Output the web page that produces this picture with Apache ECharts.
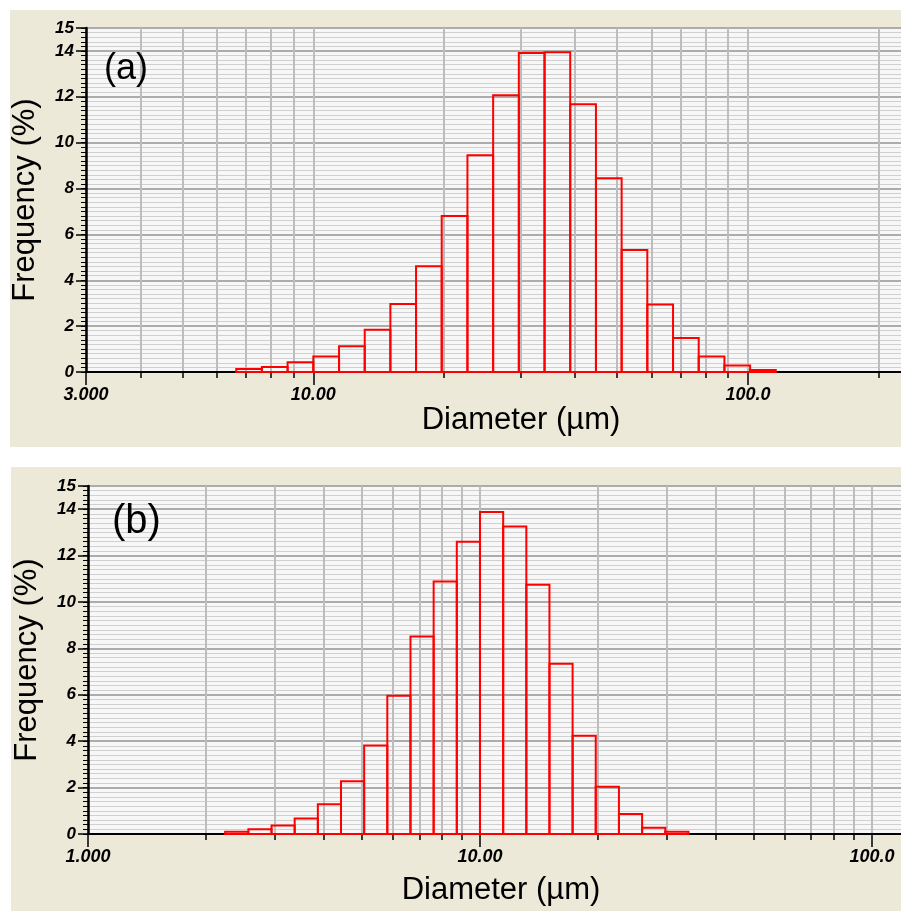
<!DOCTYPE html>
<html><head><meta charset="utf-8">
<script src="https://cdn.jsdelivr.net/npm/echarts@6/dist/echarts.min.js"></script>
<style>html,body{margin:0;padding:0;background:#fff}#c{width:901px;height:911px}</style>
</head><body><div id="c"></div>
<script>
// ---- Data ----
// Panel (a): bin edges (µm) and frequency (%)
const edgesA = [6.648, 7.617, 8.727, 10.00, 11.46, 13.13, 15.04, 17.23, 19.74, 22.62, 25.92, 29.70, 34.03, 38.99, 44.68, 51.19, 58.65, 67.21, 77.00, 88.23, 101.1, 115.8];
const freqA  = [0.13, 0.22, 0.42, 0.68, 1.12, 1.84, 2.96, 4.61, 6.80, 9.45, 12.07, 13.91, 13.94, 11.68, 8.45, 5.32, 2.94, 1.48, 0.68, 0.28, 0.09];
// Panel (b)
const edgesB = [2.238, 2.565, 2.939, 3.367, 3.858, 4.420, 5.064, 5.802, 6.648, 7.617, 8.727, 10.00, 11.46, 13.13, 15.04, 17.23, 19.74, 22.62, 25.92, 29.70, 34.03];
const freqB  = [0.10, 0.20, 0.37, 0.67, 1.28, 2.27, 3.81, 5.96, 8.51, 10.88, 12.60, 13.88, 13.25, 10.74, 7.34, 4.23, 2.04, 0.86, 0.27, 0.10];
// Axis ticks / labels
const xTicksA = [3, 4, 5, 6, 7, 8, 9, 10, 20, 30, 40, 50, 60, 70, 80, 90, 100, 200];
const xLabelValsA = [3, 10, 100];
const xLabelTextA = ['3.000', '10.00', '100.0'];
const xTicksB = [1, 2, 3, 4, 5, 6, 7, 8, 9, 10, 20, 30, 40, 50, 60, 70, 80, 90, 100];
const xLabelValsB = [1, 10, 100];
const xLabelTextB = ['1.000', '10.00', '100.0'];
const xRangeA = [3, 224.8];
const xRangeB = [1, 118.6];
const yRange = [0, 15];
const panelLabels = ['(a)', '(b)'];
const xTitle = 'Diameter (µm)';
const yTitle = 'Frequency (%)';

// ---- Build ----
const FONT = "'Liberation Sans', Arial, sans-serif";
function bins(edges, freq) {
  return freq.map((f, i) => [edges[i], edges[i + 1], f]);
}
function fmt(vals, texts) {
  return function (v) {
    for (let i = 0; i < vals.length; i++) {
      if (Math.abs(v - vals[i]) / vals[i] < 1e-3) return texts[i];
    }
    return '';
  };
}
function xAxes(gi, range, ticks, lv, lt, gap, padL) {
  return [
    { type: 'log', logBase: 10, gridIndex: gi, min: range[0], max: range[1], position: 'bottom',
      axisLine: { show: false },
      axisTick: { show: true, customValues: ticks, length: 6, inside: false, lineStyle: { color: '#000', width: 1.5 } },
      axisLabel: { show: false },
      splitLine: { show: true, lineStyle: { color: '#bdbdbd', width: 2 } },
      minorTick: { show: false }, minorSplitLine: { show: false } },
    { type: 'log', logBase: 10, gridIndex: gi, min: range[0], max: range[1], position: 'bottom',
      axisLine: { show: true, onZero: false, lineStyle: { color: '#000', width: 2 } },
      axisTick: { show: true, customValues: lv, length: 13, inside: false, lineStyle: { color: '#000', width: 1.5 } },
      axisLabel: { show: true, customValues: lv, formatter: fmt(lv, lt), margin: 14, color: '#000',
        fontFamily: FONT, fontSize: 18, fontWeight: 'bold', fontStyle: 'italic' },
      splitLine: { show: false },
      name: xTitle, nameLocation: 'middle', nameGap: gap,
      nameTextStyle: { fontFamily: FONT, fontSize: 31, color: '#000', padding: [0, 0, 0, padL] } }
  ];
}
function yAxes(gi, gap) {
  return [
    { type: 'value', gridIndex: gi, min: yRange[0], max: yRange[1], interval: 0.2, position: 'left',
      axisLine: { show: false },
      axisTick: { show: true, length: 5, inside: false, lineStyle: { color: '#000', width: 1 } },
      axisLabel: { show: false },
      splitLine: { show: true, lineStyle: { color: '#d0d0d0', width: 1.2 } } },
    { type: 'value', gridIndex: gi, min: yRange[0], max: yRange[1], interval: 2, position: 'left',
      axisLine: { show: true, onZero: false, lineStyle: { color: '#000', width: 2.5 } },
      axisTick: { show: true, length: 10, inside: false, lineStyle: { color: '#000', width: 1.5 } },
      axisLabel: { show: true, margin: 12, color: '#000', fontFamily: FONT, fontSize: 17,
        fontWeight: 'bold', fontStyle: 'italic' },
      splitLine: { show: true, lineStyle: { color: '#acacac', width: 2 } },
      name: yTitle, nameLocation: 'middle', nameGap: gap, nameRotate: 90,
      nameTextStyle: { fontFamily: FONT, fontSize: 31, color: '#000' } }
  ];
}
function barSeries(gi, data) {
  return {
    type: 'custom', xAxisIndex: gi * 2, yAxisIndex: gi * 2, z: 5, clip: false,
    data: data,
    encode: { x: [0, 1], y: 2 },
    renderItem: function (params, api) {
      const p0 = api.coord([api.value(0), api.value(2)]);
      const p1 = api.coord([api.value(1), 0]);
      return { type: 'rect', shape: { x: p0[0], y: p0[1], width: p1[0] - p0[0], height: p1[1] - p0[1] },
        style: { fill: 'none', stroke: '#ff0000', lineWidth: 2 } };
    }
  };
}

const chart = echarts.init(document.getElementById('c'), null, { renderer: 'canvas' });
chart.setOption({
  animation: false,
  backgroundColor: '#ffffff',
  graphic: { elements: [
    { type: 'rect', z: -10, silent: true, shape: { x: 10, y: 10, width: 891, height: 437 }, style: { fill: '#ece9d8' } },
    { type: 'rect', z: -10, silent: true, shape: { x: 11, y: 467, width: 890, height: 444 }, style: { fill: '#ece9d8' } },
    { type: 'text', z: 100, left: 104, top: 51, style: { text: panelLabels[0], font: '36px ' + FONT, fill: '#000' } },
    { type: 'text', z: 100, left: 112, top: 502, style: { text: panelLabels[1], font: '40px ' + FONT, fill: '#000' } }
  ] },
  grid: [
    { left: 86, top: 28, right: 0, height: 344, show: true, backgroundColor: '#f7f7f7', borderWidth: 0 },
    { left: 88, top: 486, right: 0, height: 348, show: true, backgroundColor: '#f7f7f7', borderWidth: 0 }
  ],
  xAxis: [].concat(
    xAxes(0, xRangeA, xTicksA, xLabelValsA, xLabelTextA, 26, 55),
    xAxes(1, xRangeB, xTicksB, xLabelValsB, xLabelTextB, 41, 13)
  ),
  yAxis: [].concat(yAxes(0, 45), yAxes(1, 45)),
  series: [barSeries(0, bins(edgesA, freqA)), barSeries(1, bins(edgesB, freqB))]
});
</script></body></html>
